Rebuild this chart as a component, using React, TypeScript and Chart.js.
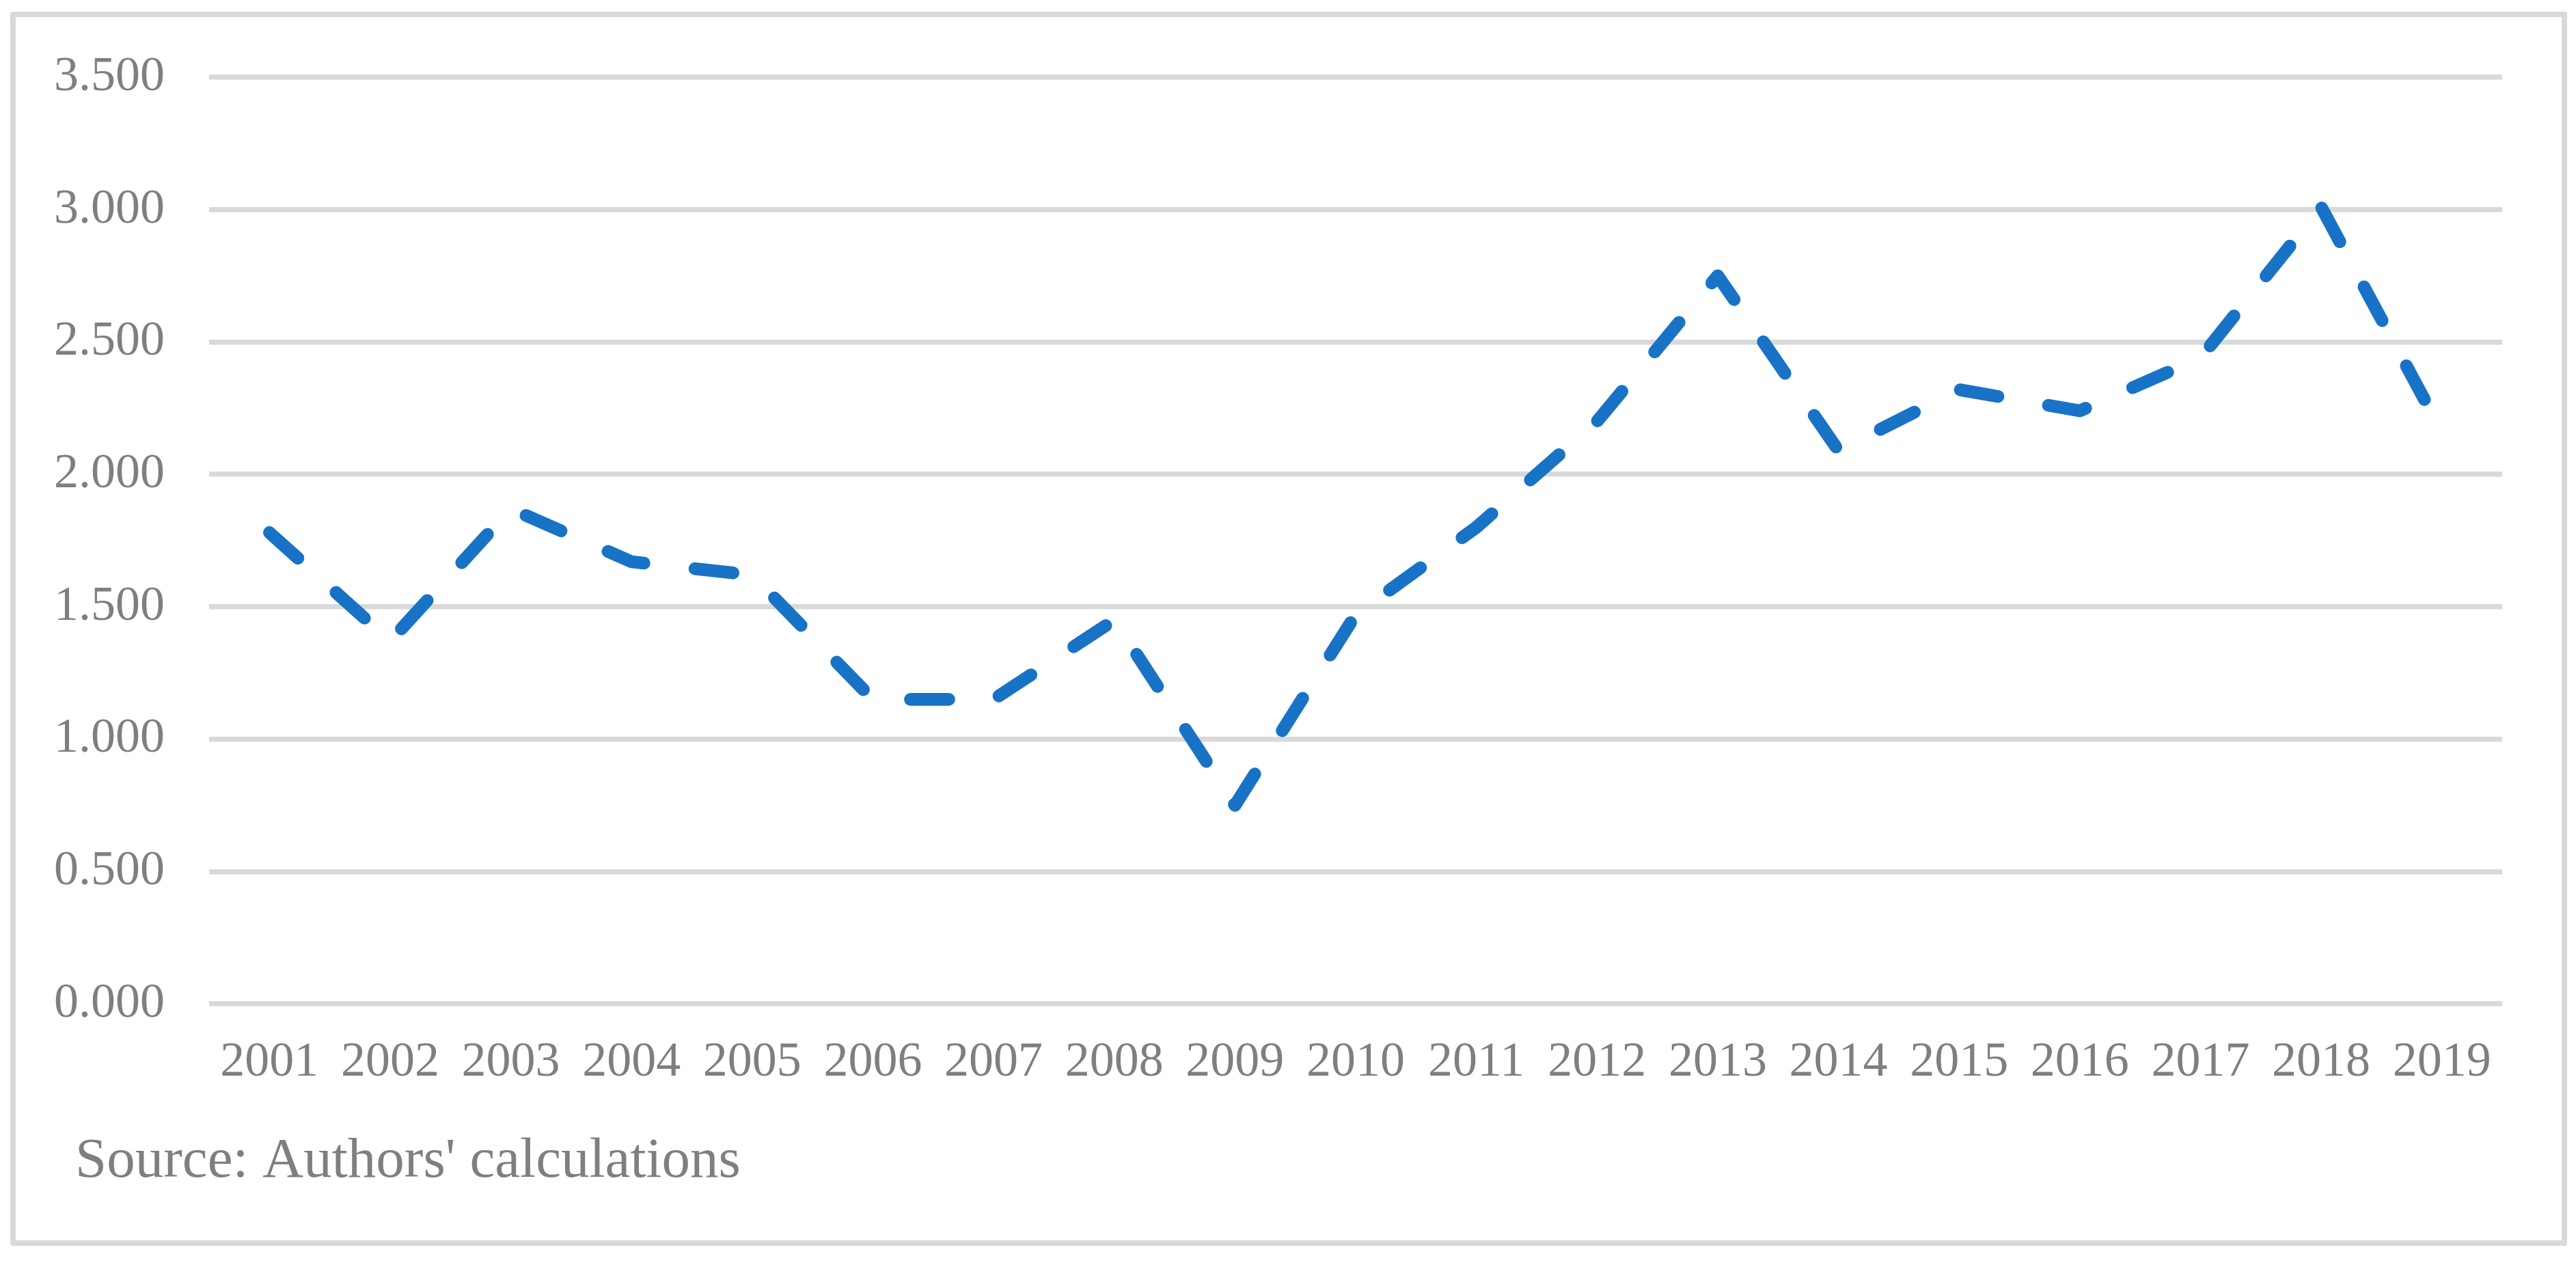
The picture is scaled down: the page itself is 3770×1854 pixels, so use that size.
import React, { useEffect, useRef } from 'react';
import { Chart, registerables } from 'chart.js';

Chart.register(...registerables);

// ---- data ----
const years: string[] = [
  '2001', '2002', '2003', '2004', '2005', '2006', '2007', '2008', '2009', '2010',
  '2011', '2012', '2013', '2014', '2015', '2016', '2017', '2018', '2019',
];
const seriesValues: number[] = [
  1.78, 1.37, 1.87, 1.67, 1.62, 1.15, 1.15, 1.45, 0.75, 1.47,
  1.8, 2.2, 2.75, 2.09, 2.32, 2.24, 2.44, 3.01, 2.16,
];
const yMin = 0;
const yMax = 3.5;
const yStep = 0.5;
const sourceNote = "Source: Authors' calculations";

// ---- styles ----
const W = 3770;
const H = 1854;
const LINE_BLUE = '#1873c7';
const TEXT_GREY = '#7f7f7f';
const GRID_GREY = '#d9d9d9';
const FONT_FAMILY = '"Liberation Serif", "Times New Roman", Times, serif';

const sourcePlugin = {
  id: 'sourceNote',
  afterDraw(chart: any) {
    const ctx = chart.ctx as CanvasRenderingContext2D;
    ctx.save();
    ctx.font = `83px ${FONT_FAMILY}`;
    ctx.fillStyle = TEXT_GREY;
    ctx.textAlign = 'left';
    ctx.textBaseline = 'middle';
    ctx.fillText(sourceNote, 110, 1700);
    ctx.restore();
  },
};

export default function App() {
  const canvasRef = useRef<HTMLCanvasElement | null>(null);

  useEffect(() => {
    const canvas = canvasRef.current;
    if (!canvas) return;
    const chart = new Chart(canvas, {
      type: 'line',
      data: {
        labels: years,
        datasets: [
          {
            data: seriesValues,
            borderColor: LINE_BLUE,
            backgroundColor: LINE_BLUE,
            borderWidth: 18.7,
            borderDash: [56, 75],
            borderCapStyle: 'round',
            borderJoinStyle: 'round',
            pointRadius: 0,
            pointHoverRadius: 0,
            fill: false,
            tension: 0,
          },
        ],
      },
      options: {
        responsive: false,
        maintainAspectRatio: false,
        animation: false,
        devicePixelRatio: 1,
        layout: { padding: { left: 0, right: 108, top: 113, bottom: 0 } },
        plugins: {
          legend: { display: false },
          tooltip: { enabled: false },
          title: { display: false },
        },
        scales: {
          x: {
            type: 'category',
            offset: true,
            grid: { display: false, drawTicks: false },
            border: { display: false },
            ticks: {
              color: TEXT_GREY,
              font: { family: FONT_FAMILY, size: 72 },
              padding: 43,
              maxRotation: 0,
              minRotation: 0,
              autoSkip: false,
            },
            afterFit: (scale: any) => {
              scale.height = H - 1469;
            },
          },
          y: {
            min: yMin,
            max: yMax,
            grid: { color: GRID_GREY, lineWidth: 7.5, drawTicks: false },
            border: { display: false },
            ticks: {
              stepSize: yStep,
              color: TEXT_GREY,
              font: { family: FONT_FAMILY, size: 72 },
              padding: 65,
              callback: (v: any) => Number(v).toFixed(3),
            },
            afterFit: (scale: any) => {
              scale.width = 306;
            },
          },
        },
      },
      plugins: [sourcePlugin],
    } as any);
    return () => chart.destroy();
  }, []);

  return (
    <div style={{ position: 'absolute', left: 0, top: 0, width: W, height: H, background: '#ffffff' }}>
      <canvas
        ref={canvasRef}
        width={W}
        height={H}
        style={{ position: 'absolute', left: 0, top: 0, width: W, height: H, display: 'block' }}
      />
      <div
        style={{
          position: 'absolute',
          left: 15,
          top: 17,
          width: 3742,
          height: 1806,
          boxSizing: 'border-box',
          border: `8px solid ${GRID_GREY}`,
          borderRadius: 4,
          pointerEvents: 'none',
        }}
      />
    </div>
  );
}
